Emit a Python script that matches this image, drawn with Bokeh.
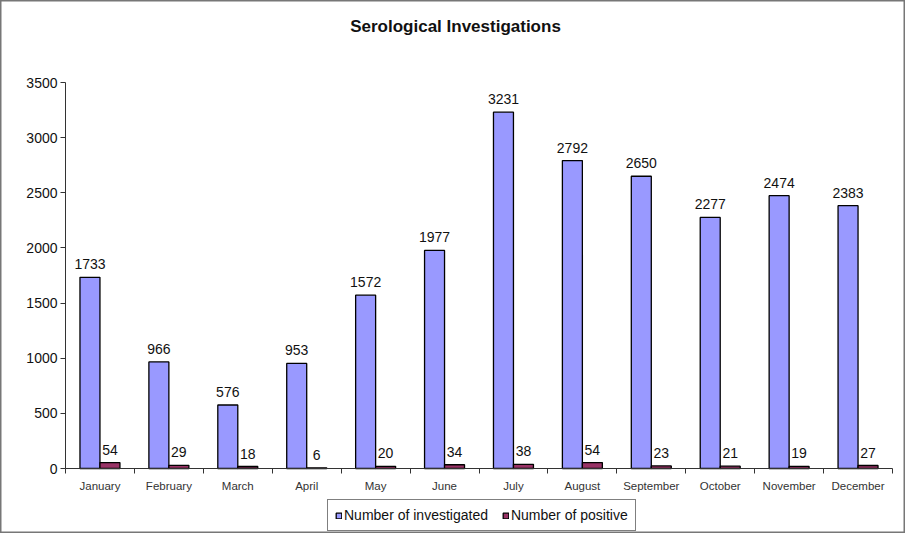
from bokeh.plotting import figure
from bokeh.models import ColumnDataSource, FixedTicker, Label, Legend, LegendItem, Range1d
from bokeh.embed import file_html
from bokeh.resources import INLINE

months = ["January", "February", "March", "April", "May", "June", "July",
          "August", "September", "October", "November", "December"]
investigated = [1733, 966, 576, 953, 1572, 1977, 3231, 2792, 2650, 2277, 2474, 2383]
positive = [54, 29, 18, 6, 20, 34, 38, 54, 23, 21, 19, 27]
y_ticks = [0, 500, 1000, 1500, 2000, 2500, 3000, 3500]
Y_MAX = 3500

FONT = "Liberation Sans"
BLUE = "#9999FF"
RED = "#993366"
BW = 0.29

W, H = 905, 533
# plot area (pixels inside the figure)
AX_L, AX_R, AX_T, AX_B = 65, 892, 82, 468
n = len(months)
sx = (AX_R - AX_L) / n
sy = (AX_B - AX_T) / Y_MAX

centers = [i + 0.5 for i in range(n)]
src_a = ColumnDataSource(dict(x=[c - BW / 2 for c in centers], top=investigated,
                              lab=[str(v) for v in investigated]))
src_b = ColumnDataSource(dict(x=[c + BW / 2 for c in centers], top=positive,
                              lab=[str(v) for v in positive]))

p = figure(width=W, height=H, output_backend="svg", toolbar_location=None,
           x_range=Range1d(-AX_L / sx, n + (W - AX_R) / sx),
           y_range=Range1d(-(H - AX_B) / sy, Y_MAX + AX_T / sy),
           min_border=0, min_border_left=0, min_border_right=0,
           min_border_top=0, min_border_bottom=0)
p.outline_line_color = "#777777"
p.outline_line_width = 2
p.xgrid.grid_line_color = None
p.ygrid.grid_line_color = None
p.background_fill_color = "white"
p.border_fill_color = "white"

r1 = p.vbar(x="x", top="top", width=BW, bottom=0, source=src_a,
            fill_color=BLUE, line_color="black", line_width=1.3)
r2 = p.vbar(x="x", top="top", width=BW, bottom=0, source=src_b,
            fill_color=RED, line_color="black", line_width=1.3)

for src in (src_a, src_b):
    p.text(x="x", y="top", text="lab", source=src, text_align="center",
           text_baseline="bottom", y_offset=-8, text_font_size="14px",
           text_font={"value": FONT}, text_color="#111111")

# x axis (drawn at y = 0)
xa = p.xaxis[0]
xa.fixed_location = 0
xa.bounds = (0, n)
xa.ticker = FixedTicker(ticks=centers, minor_ticks=list(range(n + 1)))
xa.major_label_overrides = {c: m for c, m in zip(centers, months)}
xa.major_tick_line_color = None
xa.major_tick_out = 0
xa.major_tick_in = 0
xa.minor_tick_out = 5
xa.minor_tick_in = 0
xa.minor_tick_line_color = "#333333"
xa.major_label_standoff = 6
xa.major_label_text_font = FONT
xa.major_label_text_font_size = "11.5px"
xa.major_label_text_color = "#333333"
xa.axis_line_color = "#333333"

# y axis (drawn at x = 0)
ya = p.yaxis[0]
ya.fixed_location = 0
ya.bounds = (0, Y_MAX)
ya.ticker = FixedTicker(ticks=y_ticks)
ya.minor_tick_line_color = None
ya.major_tick_out = 5
ya.major_tick_in = 0
ya.major_label_standoff = 3
ya.major_label_text_font = FONT
ya.major_label_text_font_size = "14px"
ya.major_label_text_color = "#111111"
ya.axis_line_color = "#333333"
ya.major_tick_line_color = "#333333"

title = Label(x=455, y=H - 26, x_units="screen", y_units="screen",
              text="Serological Investigations", text_align="center",
              text_baseline="middle", text_font=FONT, text_font_size="17px",
              text_font_style="bold", text_color="#111111")
p.add_layout(title)

legend = Legend(items=[LegendItem(label="Number of investigated", renderers=[r1]),
                       LegendItem(label="Number of positive", renderers=[r2])],
                orientation="horizontal", location=(327, 2),
                label_text_font=FONT, label_text_font_size="14px",
                label_text_color="#111111", glyph_width=7, glyph_height=7,
                label_standoff=2, spacing=14, padding=7, margin=0,
                border_line_color="black", border_line_width=1,
                background_fill_color="white", background_fill_alpha=1)
p.add_layout(legend, "center")

open("out.html", "w").write(file_html(p, INLINE))
